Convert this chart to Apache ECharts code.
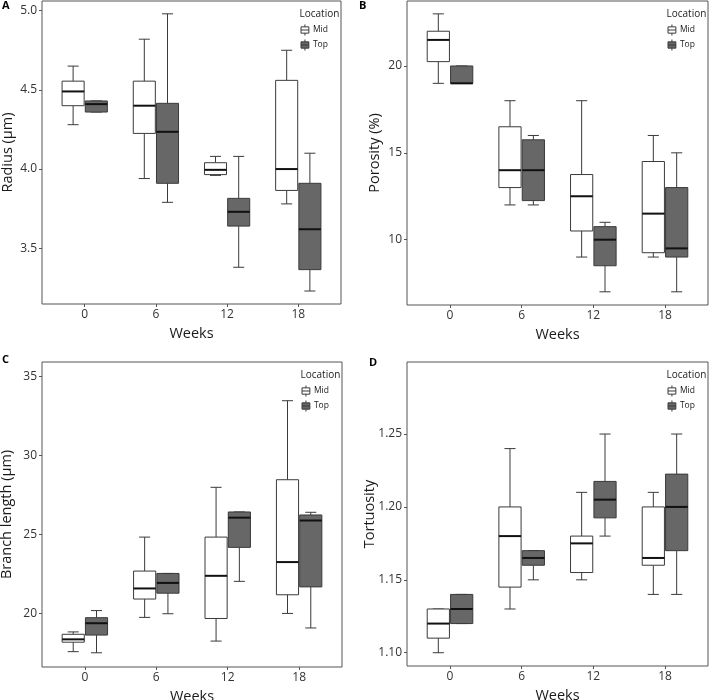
<!DOCTYPE html>
<html><head><meta charset="utf-8">
<script src="https://cdn.jsdelivr.net/npm/echarts@6/dist/echarts.min.js"></script>
<style>html,body{margin:0;padding:0;background:#fff}#c{width:709px;height:700px}</style>
</head><body><div id="c"></div>
<script>
// ---- data: each box = [min, q1, median, q3, max] ----
const weeks = ['0', '6', '12', '18'];
const locations = ['Mid', 'Top'];

const radiusMid = [[4.28, 4.40, 4.49, 4.555, 4.65], [3.94, 4.225, 4.40, 4.555, 4.82], [3.96, 3.965, 3.995, 4.04, 4.08], [3.78, 3.865, 4.00, 4.56, 4.75]];
const radiusTop = [[4.36, 4.36, 4.41, 4.43, 4.43], [3.79, 3.91, 4.235, 4.415, 4.98], [3.38, 3.64, 3.73, 3.815, 4.08], [3.23, 3.365, 3.62, 3.91, 4.10]];
const radiusTicks = [3.5, 4.0, 4.5, 5.0];

const porosityMid = [[19, 20.25, 21.5, 22, 23], [12, 13, 14, 16.5, 18], [9, 10.5, 12.5, 13.75, 18], [9, 9.25, 11.5, 14.5, 16]];
const porosityTop = [[19, 19, 19, 20, 20], [12, 12.25, 14, 15.75, 16], [7, 8.5, 10, 10.75, 11], [7, 9, 9.5, 13, 15]];
const porosityTicks = [10, 15, 20];

const branchMid = [[17.6, 18.2, 18.38, 18.7, 18.85], [19.77, 20.93, 21.6, 22.7, 24.85], [18.27, 19.7, 22.4, 24.85, 28.0], [20.02, 21.2, 23.27, 28.48, 33.48]];
const branchTop = [[17.53, 18.65, 19.4, 19.75, 20.2], [20.0, 21.3, 21.95, 22.55, 22.55], [22.05, 24.2, 26.08, 26.44, 26.44], [19.1, 21.7, 25.9, 26.25, 26.42]];
const branchTicks = [20, 25, 30, 35];

const tortMid = [[1.10, 1.11, 1.12, 1.13, 1.13], [1.13, 1.145, 1.18, 1.20, 1.24], [1.15, 1.155, 1.175, 1.18, 1.21], [1.14, 1.16, 1.165, 1.20, 1.21]];
const tortTop = [[1.12, 1.12, 1.13, 1.14, 1.14], [1.15, 1.16, 1.165, 1.17, 1.17], [1.18, 1.1925, 1.205, 1.2175, 1.25], [1.14, 1.17, 1.20, 1.2225, 1.25]];
const tortTicks = [1.10, 1.15, 1.20, 1.25];

// ---- layout ----
const panels = [
  {letter: 'A', yName: 'Radius (µm)', mid: radiusMid, top: radiusTop, ticks: radiusTicks, dec: 1, min: 3.148, max: 5.061, l: 42, t: 1, w: 299, h: 303, nameGap: 27, lx: 0, ly: 0},
  {letter: 'B', yName: 'Porosity (%)', mid: porosityMid, top: porosityTop, ticks: porosityTicks, dec: 0, min: 6.24, max: 23.74, l: 407, t: 1, w: 301, h: 304, nameGap: 25, lx: 357, ly: 0},
  {letter: 'C', yName: 'Branch length (µm)', mid: branchMid, top: branchTop, ticks: branchTicks, dec: 0, min: 16.63, max: 35.93, l: 42, t: 362, w: 300, h: 305, nameGap: 28, lx: 0, ly: 354},
  {letter: 'D', yName: 'Tortuosity', mid: tortMid, top: tortTop, ticks: tortTicks, dec: 2, min: 1.0909, max: 1.2994, l: 407, t: 362, w: 301, h: 304, nameGap: 30, lx: 367, ly: 357}
];

const FONT = '"Open Sans", "DejaVu Sans", sans-serif';
const STROKE = '#3a3a3a';
const fills = {Mid: '#ffffff', Top: '#676767'};
const legendIcon = 'path://M6,0L6,3M1,3L11,3L11,11L1,11ZM1,7L11,7M6,11L6,14';

function makeRender(side, fill) {
  return function (params, api) {
    const cat = api.value(0);
    const band = api.size([1, 0])[0];
    const bw = 0.31 * band;
    const cap = bw / 2;
    const pMin = api.coord([cat, api.value(1)]);
    const pQ1 = api.coord([cat, api.value(2)]);
    const pMed = api.coord([cat, api.value(3)]);
    const pQ3 = api.coord([cat, api.value(4)]);
    const pMax = api.coord([cat, api.value(5)]);
    const cx = pMed[0] + side * 0.163 * band;
    const ls = {stroke: STROKE, lineWidth: 1};
    return {
      type: 'group',
      children: [
        {type: 'line', shape: {x1: cx, y1: pMax[1], x2: cx, y2: pQ3[1]}, style: ls},
        {type: 'line', shape: {x1: cx, y1: pQ1[1], x2: cx, y2: pMin[1]}, style: ls},
        {type: 'line', shape: {x1: cx - cap / 2, y1: pMax[1], x2: cx + cap / 2, y2: pMax[1]}, style: ls},
        {type: 'line', shape: {x1: cx - cap / 2, y1: pMin[1], x2: cx + cap / 2, y2: pMin[1]}, style: ls},
        {type: 'rect', shape: {x: cx - bw / 2, y: pQ3[1], width: bw, height: pQ1[1] - pQ3[1]}, style: {fill: fill, stroke: STROKE, lineWidth: 1}},
        {type: 'line', shape: {x1: cx - bw / 2, y1: pMed[1], x2: cx + bw / 2, y2: pMed[1]}, style: {stroke: '#111', lineWidth: 2}}
      ]
    };
  };
}

const option = {
  animation: false,
  backgroundColor: '#fff',
  textStyle: {fontFamily: FONT},
  grid: [], xAxis: [], yAxis: [], series: [], title: [], legend: []
};

panels.forEach(function (p, i) {
  const inset = p.w / 42;
  option.grid.push({left: p.l, top: p.t, width: p.w, height: p.h, show: true, borderColor: '#555', borderWidth: 1, backgroundColor: 'transparent', outerBoundsMode: 'none'});
  option.grid.push({left: p.l + inset, top: p.t, width: p.w - 2 * inset, height: p.h, show: false, outerBoundsMode: 'none'});
  // frame axes
  option.xAxis.push({type: 'value', gridIndex: 2 * i, show: false, min: 0, max: 1});
  option.yAxis.push({
    type: 'value', gridIndex: 2 * i, min: p.min, max: p.max,
    name: p.yName, nameLocation: 'middle', nameGap: p.nameGap, nameMoveOverlap: false,
    nameTextStyle: {fontSize: 14.5, color: '#1a1a1a', fontFamily: FONT},
    axisLine: {show: false},
    axisTick: {show: true, length: 3, lineStyle: {color: '#555'}, customValues: p.ticks},
    axisLabel: {show: true, margin: 5, fontSize: 12, color: '#333', fontFamily: FONT, customValues: p.ticks,
      formatter: (function (d) { return function (v) { return Number(v).toFixed(d); }; })(p.dec)},
    splitLine: {show: false}
  });
  // inner axes
  option.xAxis.push({
    type: 'category', gridIndex: 2 * i + 1, data: weeks, boundaryGap: true,
    name: 'Weeks', nameLocation: 'middle', nameGap: 22, nameMoveOverlap: false,
    nameTextStyle: {fontSize: 14.5, color: '#1a1a1a', fontFamily: FONT},
    axisLine: {show: false},
    axisTick: {show: true, alignWithLabel: true, length: 3, lineStyle: {color: '#555'}},
    axisLabel: {margin: 5, fontSize: 12, color: '#333', fontFamily: FONT},
    splitLine: {show: false}
  });
  option.yAxis.push({type: 'value', gridIndex: 2 * i + 1, min: p.min, max: p.max, show: false});

  [p.mid, p.top].forEach(function (arr, k) {
    const loc = locations[k];
    option.series.push({
      type: 'custom', name: loc, xAxisIndex: 2 * i + 1, yAxisIndex: 2 * i + 1,
      itemStyle: {color: fills[loc], borderColor: STROKE, borderWidth: 1},
      encode: {x: 0, y: [1, 2, 3, 4, 5]},
      data: arr.map(function (b, j) { return [j].concat(b); }),
      renderItem: makeRender(k === 0 ? -1 : 1, fills[loc]),
      clip: false
    });
  });

  const right = p.l + p.w;
  const titleLeft = right - 41.5;
  const titleMid = p.t + 15;
  option.title.push({text: 'Location', left: titleLeft, top: titleMid - 7, padding: 0,
    textStyle: {fontSize: 10, fontWeight: 'normal', color: '#1a1a1a', fontFamily: FONT}});
  option.title.push({text: p.letter, left: p.lx + 2, top: p.ly, padding: 0,
    textStyle: {fontSize: 11, fontWeight: 'bold', color: '#000', fontFamily: FONT}});
  option.legend.push({
    orient: 'vertical', left: titleLeft + 1, top: titleMid + 8, padding: 0,
    itemWidth: 10, itemHeight: 11, itemGap: 3, selectedMode: false,
    textStyle: {fontSize: 8.5, color: '#1a1a1a', fontFamily: FONT, padding: [0, 0, 0, -2]},
    data: locations.map(function (loc) {
      return {name: loc, icon: legendIcon, itemStyle: {color: fills[loc], borderColor: STROKE, borderWidth: 1}};
    })
  });
});

const chart = echarts.init(document.getElementById('c'), null, {renderer: 'canvas'});
chart.setOption(option);
</script>
</body></html>
